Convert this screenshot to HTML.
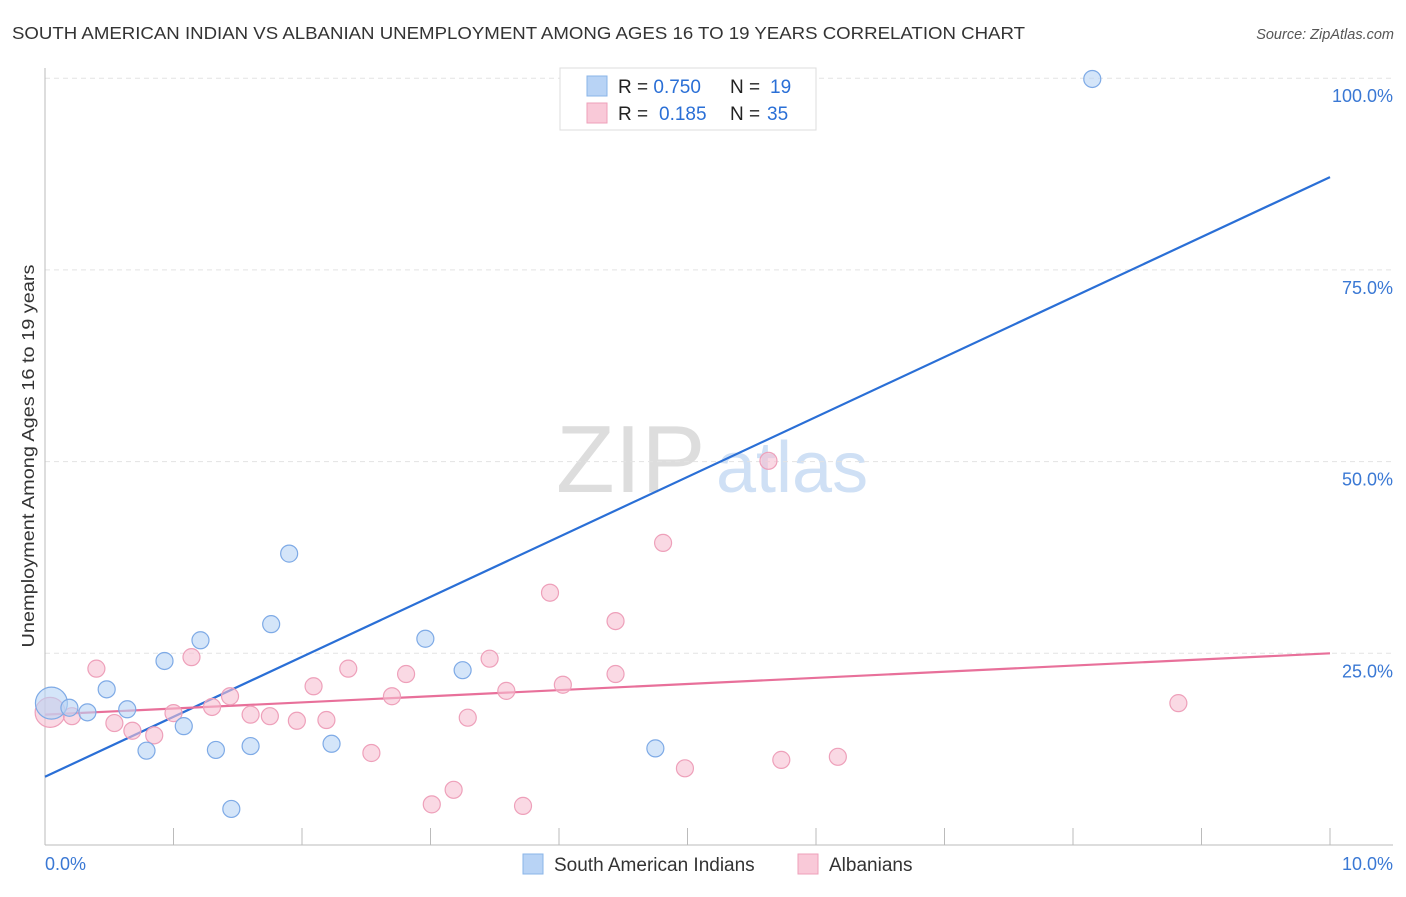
<!DOCTYPE html>
<html><head><meta charset="utf-8"><style>
body{margin:0;background:#fff;font-family:"Liberation Sans",sans-serif;}
svg text{font-family:"Liberation Sans",sans-serif;}
</style></head><body>
<svg id="c" width="1406" height="892">
<text x="12" y="39" font-size="17.5" fill="#333" textLength="1013" lengthAdjust="spacingAndGlyphs">SOUTH AMERICAN INDIAN VS ALBANIAN UNEMPLOYMENT AMONG AGES 16 TO 19 YEARS CORRELATION CHART</text>
<text x="1394" y="39" font-size="14.5" fill="#555" font-style="italic" text-anchor="end">Source: ZipAtlas.com</text>
<text x="0" y="0" transform="translate(34,456) rotate(-90)" font-size="17.5" fill="#333" text-anchor="middle" textLength="383" lengthAdjust="spacingAndGlyphs">Unemployment Among Ages 16 to 19 years</text>
<text x="556" y="492" font-size="96" fill="#ddd" font-family="Liberation Serif">ZIP</text>
<text x="716" y="492" font-size="72" fill="#cfe0f5">atlas</text>
<g id="grid"></g><g id="lines"></g><g id="pts"></g>
<g>
<rect x="560" y="68" width="256" height="62" fill="#fff" stroke="#ddd"/>
<rect x="587" y="76" width="20" height="20" fill="#b8d3f5" stroke="#8ab4e8"/>
<rect x="587" y="103" width="20" height="20" fill="#f9c9d8" stroke="#eea0ba"/>
<text x="618" y="93" font-size="19" fill="#222">R = <tspan fill="#2a6fd6">0.750</tspan><tspan x="730">N = </tspan><tspan x="770" fill="#2a6fd6">19</tspan></text>
<text x="618" y="120" font-size="19" fill="#222">R = <tspan x="659" fill="#2a6fd6">0.185</tspan><tspan x="730">N = </tspan><tspan x="767" fill="#2a6fd6">35</tspan></text>
</g>
<g>
<rect x="523" y="854" width="20" height="20" fill="#b8d3f5" stroke="#8ab4e8"/>
<text x="554" y="871" font-size="19" fill="#333">South American Indians</text>
<rect x="798" y="854" width="20" height="20" fill="#f9c9d8" stroke="#eea0ba"/>
<text x="829" y="871" font-size="19" fill="#333">Albanians</text>
</g>
</svg>
<script>
const yTicks=[25,50,75,100];
const xTickVals=[0,1,2,3,4,5,6,7,8,9,10];
const blueX=[0.05,0.19,0.33,0.48,0.64,0.79,0.93,1.08,1.21,1.33,1.60,1.76,1.90,2.23,1.45,2.96,3.25,4.75,8.15];
const blueY=[18.5,17.9,17.3,20.3,17.7,12.3,24.0,15.5,26.7,12.4,12.9,28.8,38.0,13.2,4.7,26.9,22.8,12.6,99.9];
const pinkX=[0.04,0.21,0.40,0.54,0.68,0.85,1.00,1.14,1.30,1.44,1.60,1.75,1.96,2.09,2.19,2.36,2.54,2.70,2.81,3.01,3.18,3.29,3.46,3.59,3.72,3.93,4.03,4.44,4.44,4.81,4.98,5.63,5.73,6.17,8.82];
const pinkY=[17.3,16.8,23.0,15.9,14.9,14.3,17.2,24.5,18.0,19.4,17.0,16.8,16.2,20.7,16.3,23.0,12.0,19.4,22.3,5.3,7.2,16.6,24.3,20.1,5.1,32.9,20.9,29.2,22.3,39.4,10.0,50.1,11.1,11.5,18.5];
const blueTrend=[8.9,87.1];
const pinkTrend=[17.0,25.0];
const NS="http://www.w3.org/2000/svg";
const X=v=>45+v*128.5, Y=v=>845-v*7.668;
function mk(t,a,p){const e=document.createElementNS(NS,t);for(const k in a)e.setAttribute(k,a[k]);p.appendChild(e);return e;}
const g=document.getElementById('grid');
yTicks.forEach(t=>{
 const l=mk('line',{x1:45,x2:1393,y1:Y(t),y2:Y(t),stroke:'#e3e3e3','stroke-dasharray':'5,4'},g);
 
 
 const tx=mk('text',{x:1393,y:Y(t)+24,'font-size':18,fill:'#3a78d4','text-anchor':'end'},g);tx.textContent=t.toFixed(1)+'%';
 
 
});
mk('line',{x1:45,x2:45,y1:68,y2:845,stroke:'#bbb'},g);
mk('line',{x1:45,x2:1393,y1:845,y2:845,stroke:'#bbb'},g);
xTickVals.forEach(t=>{const l=mk('line',{x1:X(t),x2:X(t),y1:828,y2:845,stroke:'#bbb'},g);
 
 });
let a=mk('text',{x:45,y:870,'font-size':18,fill:'#3a78d4'},g);a.textContent='0.0%';


a=mk('text',{x:1393,y:870,'font-size':18,fill:'#3a78d4','text-anchor':'end'},g);a.textContent='10.0%';


const p=document.getElementById('pts');
function pts(xs,ys,fill,stroke,name,big){xs.forEach((x,i)=>{const c=mk('circle',{cx:X(x),cy:Y(ys[i]),r:i===0?big:8.5,fill:fill,'fill-opacity':0.6,stroke:stroke,'stroke-width':1.2},p);
 
 });}
pts(pinkX,pinkY,'#f7c0d2','#eea0ba','albanian-point',15);
pts(blueX,blueY,'#b8d3f5','#7eaae6','south-american-indian-point',16);
const L=document.getElementById('lines');
let l1=mk('line',{x1:X(0),y1:Y(blueTrend[0]),x2:X(10),y2:Y(blueTrend[1]),stroke:'#2a6fd6','stroke-width':2.2},L);


let l2=mk('line',{x1:X(0),y1:Y(pinkTrend[0]),x2:X(10),y2:Y(pinkTrend[1]),stroke:'#e8709a','stroke-width':2.2},L);


</script>
</body></html>
